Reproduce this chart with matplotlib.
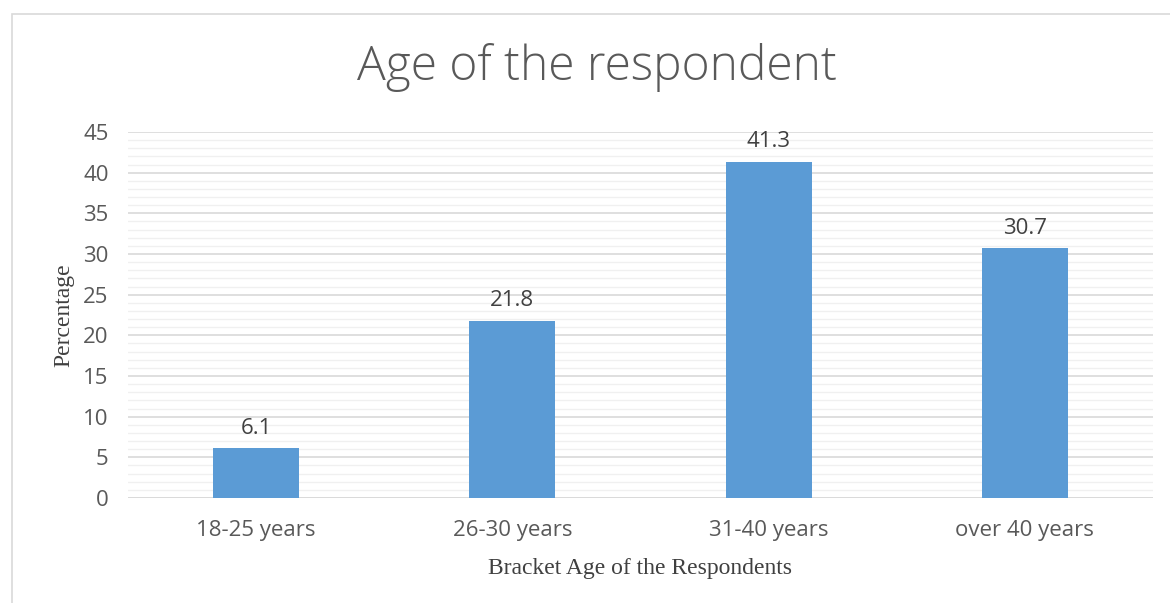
import matplotlib.pyplot as plt
from matplotlib.patches import Rectangle
from matplotlib.ticker import MultipleLocator

categories = ["18-25 years", "26-30 years", "31-40 years", "over 40 years"]
values = [6.1, 21.8, 41.3, 30.7]
labels = ["6.1", "21.8", "41.3", "30.7"]

plt.rcParams['font.family'] = ['Open Sans', 'DejaVu Sans']

fig = plt.figure(figsize=(11.7, 6.03), dpi=100)
ax = fig.add_axes([128/1170, 1-498/603, 1025/1170, 366/603])

# outer chart frame
fig.patches.append(Rectangle((12/1170, -0.05), 1.2, 1-14/603+0.05, transform=fig.transFigure,
                             fill=False, edgecolor='#d9d9d9', lw=1.2))

x = range(len(categories))
ax.bar(x, values, width=0.335, color='#5b9bd5', zorder=3)
for xi, v, t in zip(x, values, labels):
    ax.annotate(t, (xi, v), xytext=(0, 7), textcoords='offset points',
                ha='center', va='bottom', fontsize=16, color='#404040')

ax.set_xlim(-0.5, 3.5)
ax.set_ylim(0, 45)
ax.yaxis.set_major_locator(MultipleLocator(5))
ax.yaxis.set_minor_locator(MultipleLocator(1))
ax.grid(axis='y', which='major', color='#d9d9d9', lw=1.2, zorder=0)
ax.grid(axis='y', which='minor', color='#f0f0f0', lw=1.0, zorder=0)
ax.set_xticks(list(x))
ax.set_xticklabels(categories)
ax.tick_params(axis='both', which='both', length=0, labelsize=16, labelcolor='#595959')
ax.tick_params(axis='x', pad=16)
ax.tick_params(axis='y', pad=14)
for s in ax.spines.values():
    s.set_visible(False)
ax.axhline(0, color='#d9d9d9', lw=1.2, zorder=2)

ax.set_ylabel("Percentage", family='Liberation Serif', fontsize=17, color='#404040', labelpad=6)
ax.set_xlabel("Bracket Age of the Respondents", family='Liberation Serif', fontsize=17,
              color='#404040', labelpad=12)
fig.text(0.51, 1-68/603, "Age of the respondent", ha='center', va='center',
         fontsize=34.5, color='#595959', fontweight='light')

fig.savefig("out.png", dpi=100)
